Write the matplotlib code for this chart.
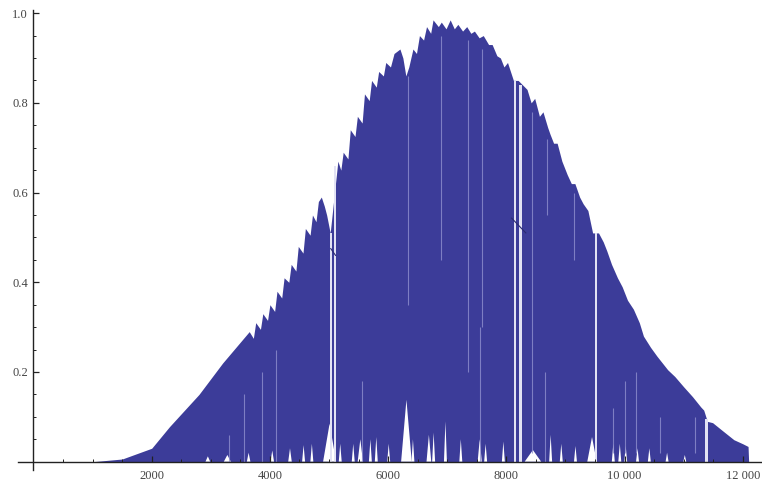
import matplotlib
matplotlib.use("Agg")
import matplotlib.pyplot as plt
from matplotlib.ticker import MultipleLocator, FixedLocator, FuncFormatter

# Upper envelope of the oscillating signal (with its teeth)
env_x = [1000, 1500, 2000, 2300, 2800, 3200, 3650, 3720, 3760, 3840, 3880,
         3960, 4000, 4080, 4120, 4200, 4240, 4320, 4360, 4440, 4480, 4560,
         4600, 4680, 4720, 4780, 4820, 4870, 4920, 4960, 5020,
         5150, 5200, 5240, 5320, 5360, 5440, 5480, 5560, 5600, 5680, 5720,
         5800, 5840, 5920, 5960, 6040, 6100, 6200, 6250, 6300, 6350, 6420,
         6480, 6530, 6600, 6650, 6720, 6760, 6850, 6900, 6980, 7050, 7120,
         7180, 7260, 7330, 7400, 7460, 7540, 7610, 7700, 7760, 7840, 7900,
         7960, 8020, 8120, 8200, 8350, 8420, 8480, 8560, 8620, 8700, 8740,
         8800, 8860, 8940, 9030, 9100, 9160, 9240, 9300, 9380, 9460,
         9560, 9640, 9700, 9780, 9880, 9960, 10050, 10150, 10250, 10320,
         10440, 10550, 10730, 10850, 11000, 11150, 11290, 11340, 11400,
         11490, 11650, 11850, 12000, 12090, 12100]
env_y = [0.0, 0.006, 0.03, 0.078, 0.15, 0.22, 0.29, 0.275, 0.31, 0.295, 0.33,
         0.315, 0.35, 0.335, 0.38, 0.365, 0.41, 0.40, 0.44, 0.425, 0.48, 0.465,
         0.52, 0.505, 0.55, 0.535, 0.58, 0.59, 0.57, 0.55, 0.51,
         0.67, 0.65, 0.69, 0.675, 0.74, 0.725, 0.77, 0.755, 0.82, 0.805, 0.85,
         0.835, 0.87, 0.86, 0.89, 0.88, 0.91, 0.92, 0.90, 0.86, 0.88, 0.92,
         0.91, 0.95, 0.94, 0.97, 0.955, 0.985, 0.97, 0.98, 0.965, 0.985, 0.965,
         0.975, 0.96, 0.97, 0.955, 0.96, 0.945, 0.95, 0.93, 0.93, 0.905, 0.90,
         0.88, 0.89, 0.85, 0.85, 0.83, 0.80, 0.81, 0.77, 0.78, 0.745, 0.73,
         0.71, 0.71, 0.67, 0.64, 0.62, 0.62, 0.59, 0.575, 0.56, 0.51,
         0.51, 0.49, 0.47, 0.44, 0.41, 0.39, 0.36, 0.34, 0.31, 0.28,
         0.255, 0.235, 0.205, 0.19, 0.167, 0.145, 0.122, 0.115, 0.09,
         0.087, 0.07, 0.049, 0.04, 0.034, 0.0]

# White spikes rising from the baseline: centre, height, half-width
spike_x = [2950, 3280, 3640, 4040, 4340, 4570, 4710, 5010, 5190, 5410, 5530,
           5700, 5800, 6010, 6310, 6420, 6690, 6770, 6970, 7230, 7550, 7650,
           7950, 8450, 8750, 8930, 9170, 9450, 9810, 9920, 10020, 10220,
           10420, 10720, 11020]
spike_h = [0.012, 0.015, 0.02, 0.025, 0.03, 0.037, 0.04, 0.085, 0.04, 0.04,
           0.05, 0.05, 0.055, 0.04, 0.138, 0.05, 0.06, 0.065, 0.09, 0.05,
           0.05, 0.04, 0.045, 0.026, 0.06, 0.04, 0.035, 0.055, 0.04, 0.04,
           0.035, 0.03, 0.03, 0.02, 0.015]
spike_w = [40, 60, 30, 30, 30, 25, 25, 110, 25, 25, 45, 25, 25, 25, 90, 25,
           40, 25, 25, 25, 35, 25, 25, 140, 25, 25, 25, 80, 25, 25, 25, 25,
           25, 25, 25]

# Lighter vertical streaks inside the fill: x, bottom, top
streak_x = [3300, 3560, 3860, 4100, 5550, 6330, 6900, 7360, 7560, 7590,
            8430, 8660, 8680, 9150, 9800, 10000, 10200, 10600, 11200]
streak_lo = [0.0, 0.0, 0.0, 0.0, 0.0, 0.35, 0.45, 0.2, 0.0, 0.3,
             0.02, 0.0, 0.55, 0.45, 0.02, 0.02, 0.02, 0.02, 0.02]
streak_hi = [0.06, 0.15, 0.2, 0.25, 0.18, 0.86, 0.95, 0.94, 0.3, 0.92,
             0.78, 0.2, 0.72, 0.6, 0.12, 0.18, 0.2, 0.1, 0.1]

# Pale full-height gaps: centre, width, height
gap_x = [5040, 5095, 8140, 8240, 9515, 11380]
gap_w = [30, 30, 35, 35, 40, 50]
gap_h = [0.51, 0.66, 0.85, 0.84, 0.51, 0.095]

# Thin curve pieces seen through the gaps
seg_x = [[5030, 5110], [8090, 8330]]
seg_y = [[0.475, 0.46], [0.543, 0.51]]

blue = "#3c3c99"
lav = "#8f8fce"
pale = "#e2e2f4"

fig = plt.figure(figsize=(7.62, 4.83), dpi=100)
ax = fig.add_axes([18 / 762, 13 / 483, 1 - 18 / 762, 460 / 483])

ax.fill_between(env_x, 0, env_y, color=blue, lw=0)
ax.vlines(streak_x, streak_lo, streak_hi, colors=lav, lw=0.8, alpha=0.8)
for x, h, w in zip(spike_x, spike_h, spike_w):
    ax.fill([x - w, x, x + w], [0, h, 0], color="white", lw=0)
ax.bar(gap_x, gap_h, width=gap_w, color=pale, lw=0)
for xs, ys in zip(seg_x, seg_y):
    ax.plot(xs, ys, color="#2a2a70", lw=0.8)

ax.set_xlim(-262, 12326)
ax.set_ylim(-0.0185, 1.007)

# Mathematica-like axes crossing at the origin
ax.spines["left"].set_position(("data", 0))
ax.spines["bottom"].set_position(("data", 0))
ax.spines["top"].set_visible(False)
ax.spines["right"].set_visible(False)
for s in ("left", "bottom"):
    ax.spines[s].set_linewidth(1.0)
    ax.spines[s].set_color("#222222")

ax.xaxis.set_major_locator(FixedLocator([2000, 4000, 6000, 8000, 10000, 12000]))
ax.xaxis.set_minor_locator(MultipleLocator(500))
ax.yaxis.set_major_locator(FixedLocator([0.2, 0.4, 0.6, 0.8, 1.0]))
ax.yaxis.set_minor_locator(MultipleLocator(0.05))
ax.xaxis.set_major_formatter(FuncFormatter(
    lambda v, p: "%d" % v if v < 10000 else "%d %03d" % (v // 1000, v % 1000)))
ax.yaxis.set_major_formatter(FuncFormatter(lambda v, p: "%.1f" % v))

ax.tick_params(which="major", direction="in", length=4, width=0.9,
               color="#222222", labelsize=9, labelcolor="#444444")
ax.tick_params(axis="x", which="major", pad=6)
ax.tick_params(axis="y", which="major", pad=4)
ax.tick_params(which="minor", direction="in", length=2.2, width=0.7,
               color="#222222")
for lab in ax.get_xticklabels() + ax.get_yticklabels():
    lab.set_family("Liberation Serif")

fig.savefig("out.png", dpi=100)
